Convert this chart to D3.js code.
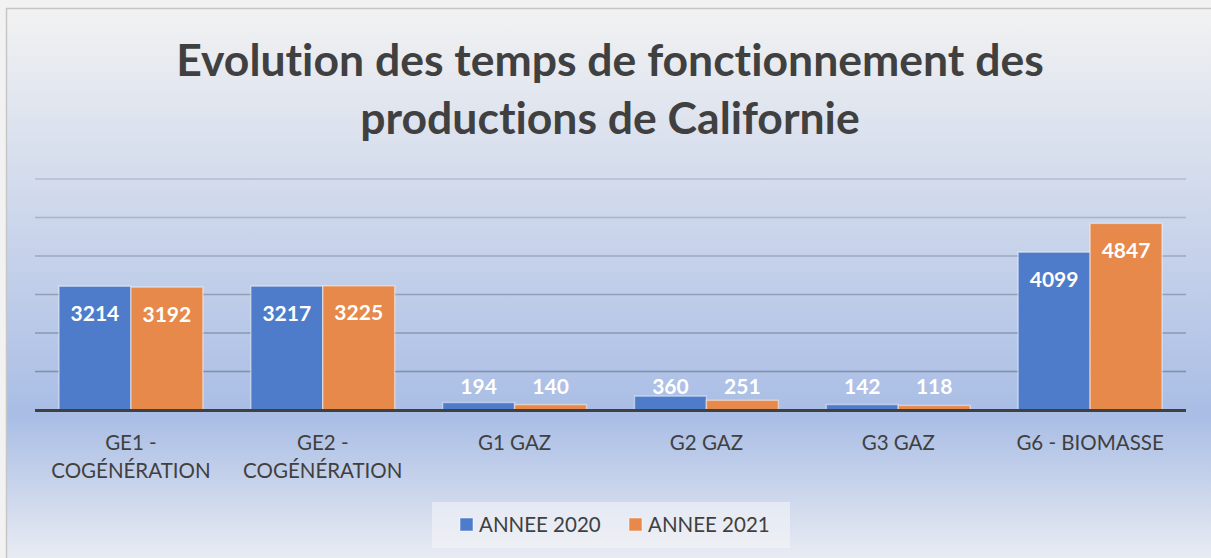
<!DOCTYPE html>
<html>
<head>
<meta charset="utf-8">
<script src="https://cdn.jsdelivr.net/npm/d3@7"></script>
<style>
  html, body { margin: 0; padding: 0; background: #f2f2f2; }
  svg { display: block; }
  text { font-variant-ligatures: none; }
</style>
</head>
<body>
<svg id="chart" width="1211" height="558"></svg>
<script>
const categories = [["GE1 -", "COGÉNÉRATION"], ["GE2 -", "COGÉNÉRATION"], ["G1 GAZ"], ["G2 GAZ"], ["G3 GAZ"], ["G6 - BIOMASSE"]];
const seriesNames = ["ANNEE 2020", "ANNEE 2021"];
const values2020 = [3214, 3217, 194, 360, 142, 4099];
const values2021 = [3192, 3225, 140, 251, 118, 4847];
const yTicks = [0, 1000, 2000, 3000, 4000, 5000, 6000];
const titleLines = ["Evolution des temps de fonctionnement des", "productions de Californie"];

const W = 1211, H = 558;
const svg = d3.select("#chart");
const font = "Lato, 'Open Sans', sans-serif";

// background
const defs = svg.append("defs");
const grad = defs.append("linearGradient").attr("id", "bg").attr("x1", 0).attr("y1", 0).attr("x2", 0).attr("y2", 1);
grad.append("stop").attr("offset", "0%").attr("stop-color", "#f2f2f2");
grad.append("stop").attr("offset", "73%").attr("stop-color", "#a9bde5");
grad.append("stop").attr("offset", "100%").attr("stop-color", "#eceef3");

svg.append("rect").attr("x", 0).attr("y", 0).attr("width", W).attr("height", H).attr("fill", "#f2f2f2");
svg.append("rect").attr("x", 6.5).attr("y", 8.5).attr("width", W).attr("height", H)
  .attr("fill", "url(#bg)").attr("stroke", "#c6c6c6").attr("stroke-width", 1.5);

// title
svg.append("g").selectAll("text").data(titleLines).join("text")
  .attr("x", 610).attr("y", (d, i) => 76 + i * 58)
  .attr("text-anchor", "middle")
  .attr("font-family", font).attr("font-weight", "bold").attr("font-size", 44.5)
  .attr("fill", "#404040").text(d => d);

// scales
const plotL = 35, plotR = 1186, baseY = 410;
const x0 = d3.scaleBand().domain(d3.range(categories.length)).range([plotL, plotR]).paddingInner(0.25).paddingOuter(0.125);
const x1 = d3.scaleBand().domain([0, 1]).range([0, x0.bandwidth()]);
const y = d3.scaleLinear().domain([0, 6000]).range([baseY, 179]);

// gridlines
svg.append("g").selectAll("line").data(yTicks.slice(1)).join("line")
  .attr("x1", plotL).attr("x2", plotR)
  .attr("y1", d => y(d)).attr("y2", d => y(d))
  .attr("stroke", "#5a6478").attr("stroke-opacity", d => 0.6 - d / 6000 * 0.35).attr("stroke-width", 1.5);

const colors = ["#4f7cca", "#e6894b"];
const series = [values2020, values2021];

const groups = svg.append("g").selectAll("g").data(categories).join("g")
  .attr("transform", (d, i) => `translate(${x0(i)},0)`);

groups.each(function(d, i) {
  const g = d3.select(this);
  series.forEach((vals, s) => {
    const v = vals[i];
    g.append("rect")
      .attr("x", x1(s)).attr("y", y(v))
      .attr("width", x1.bandwidth()).attr("height", baseY - y(v))
      .attr("fill", colors[s])
      .attr("stroke", "rgba(255,255,255,0.45)").attr("stroke-width", 1.5);
    const ly = Math.min(y(v) + 27, baseY - 24);
    g.append("text")
      .attr("x", x1(s) + x1.bandwidth() / 2).attr("y", ly)
      .attr("dy", "0.36em").attr("text-anchor", "middle")
      .attr("font-family", font).attr("font-weight", "bold").attr("font-size", 21)
      .attr("fill", "#ffffff").text(v);
  });
});

// baseline axis
svg.append("line").attr("x1", plotL).attr("x2", plotR).attr("y1", baseY + 0.5).attr("y2", baseY + 0.5)
  .attr("stroke", "#404040").attr("stroke-width", 3);

// category labels
const catG = svg.append("g").selectAll("text").data(categories).join("text")
  .attr("x", (d, i) => x0(i) + x0.bandwidth() / 2)
  .attr("text-anchor", "middle")
  .attr("font-family", font).attr("font-size", 20.5).attr("fill", "#404040");
catG.each(function(d) {
  const t = d3.select(this);
  d.forEach((line, j) => {
    t.append("tspan").attr("x", t.attr("x")).attr("y", 450 + j * 28).text(line);
  });
});

// legend
const lg = svg.append("g");
lg.append("rect").attr("x", 432).attr("y", 502).attr("width", 358).attr("height", 46).attr("fill", "rgba(245,245,247,0.55)");
const legX = [460, 629];
seriesNames.forEach((n, s) => {
  lg.append("rect").attr("x", legX[s]).attr("y", 518).attr("width", 13).attr("height", 13)
    .attr("fill", colors[s]).attr("stroke", "rgba(255,255,255,0.5)");
  lg.append("text").attr("x", legX[s] + 19).attr("y", 532)
    .attr("font-family", font).attr("font-size", 20.5).attr("fill", "#404040").text(n);
});
</script>
</body>
</html>
